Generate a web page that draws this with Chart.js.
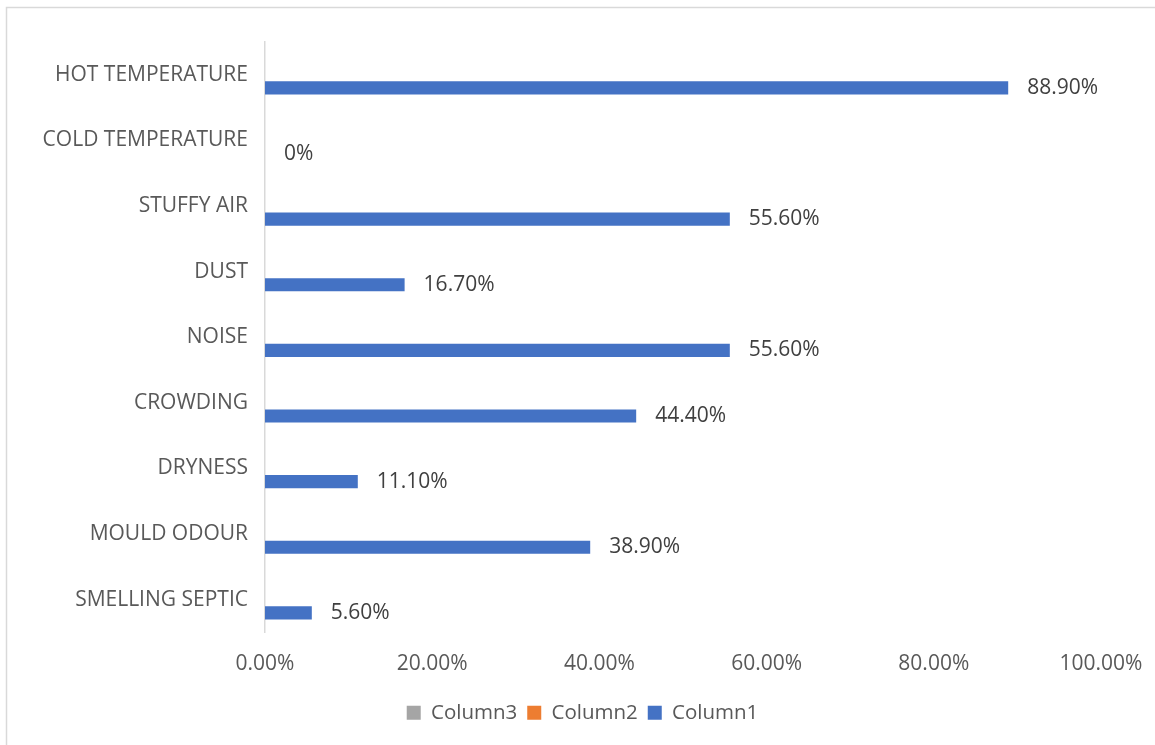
<!DOCTYPE html>
<html>
<head>
<meta charset="utf-8">
<title>Indoor environment complaints</title>
<script src="https://cdn.jsdelivr.net/npm/chart.js@4"></script>
<style>
  html, body { margin: 0; padding: 0; background: #fff; }
  #wrap { width: 1155px; height: 745px; position: relative; }
</style>
</head>
<body>
<div id="wrap"><canvas id="myChart"></canvas></div>
<script>
const categories = [
  "HOT TEMPERATURE", "COLD TEMPERATURE", "STUFFY AIR", "DUST", "NOISE",
  "CROWDING", "DRYNESS", "MOULD ODOUR", "SMELLING SEPTIC"
];
// percent of respondents
const column1 = [88.9, 0, 55.6, 16.7, 55.6, 44.4, 11.1, 38.9, 5.6];
const column2 = [];
const column3 = [];
const xTicks = [0, 20, 40, 60, 80, 100];

const FONT = "'Open Sans', sans-serif";
const axisGrey = "#595959";

// frame around the whole chart, like the spreadsheet chart box
const framePlugin = {
  id: "frame",
  afterLayout(chart) {
    // legend sits a bit right of the plot centre
    if (chart.legend) {
      chart.legend.left += 32;
      chart.legend.right += 32;
    }
  },
  beforeDraw(chart) {
    const ctx = chart.ctx;
    ctx.save();
    ctx.fillStyle = "#fff";
    ctx.fillRect(0, 0, chart.width, chart.height);
    ctx.strokeStyle = "#D9D9D9";
    ctx.lineWidth = 1.5;
    ctx.strokeRect(6.5, 7.5, chart.width + 20, chart.height + 20);
    ctx.restore();
  }
};

// value labels to the right of Column1 bars
const valueLabels = {
  id: "valueLabels",
  afterDatasetsDraw(chart) {
    const ctx = chart.ctx;
    const idx = chart.data.datasets.findIndex(d => d.label === "Column1");
    const meta = chart.getDatasetMeta(idx);
    ctx.save();
    ctx.font = "21px " + FONT;
    ctx.fillStyle = "#404040";
    ctx.textAlign = "left";
    ctx.textBaseline = "middle";
    meta.data.forEach((bar, i) => {
      const v = column1[i];
      const txt = v === 0 ? "0%" : v.toFixed(2) + "%";
      ctx.fillText(txt, bar.x + 19, bar.y);
    });
    ctx.restore();
  }
};

const data = {
  labels: categories,
  datasets: [
    { label: "Column3", data: column3, backgroundColor: "#A5A5A5" },
    { label: "Column2", data: column2, backgroundColor: "#ED7D31" },
    { label: "Column1", data: column1, backgroundColor: "#4472C4" }
  ]
};

const config = {
  type: "bar",
  data,
  options: {
    indexAxis: "y",
    responsive: true,
    maintainAspectRatio: false,
    animation: false,
    layout: { padding: { left: 0, right: 54, top: 42, bottom: 12 } },
    datasets: {
      bar: { categoryPercentage: 0.6, barPercentage: 1.0, borderWidth: 0 }
    },
    scales: {
      x: {
        min: 0,
        max: 100,
        afterBuildTicks(scale) {
          scale.ticks = xTicks.map(v => ({ value: v }));
        },
        afterFit(scale) {
          scale.height = 60;
          scale.paddingLeft = 0;
          scale.paddingRight = 0;
        },
        grid: { display: false, drawTicks: false },
        border: { display: false },
        ticks: {
          color: axisGrey,
          font: { family: FONT, size: 21 },
          padding: 19,
          maxRotation: 0,
          callback: v => Number(v).toFixed(2) + "%"
        }
      },
      y: {
        afterFit(scale) { scale.width = 265; },
        grid: { display: false, drawTicks: false },
        border: { display: true, color: "#D9D9D9", width: 1.5 },
        ticks: {
          color: axisGrey,
          font: { family: FONT, size: 21 },
          padding: 17
        }
      }
    },
    plugins: {
      legend: {
        position: "bottom",
        labels: {
          color: axisGrey,
          font: { family: FONT, size: 20.5 },
          boxWidth: 14,
          boxHeight: 14,
          padding: 10
        }
      },
      tooltip: { enabled: false }
    }
  },
  plugins: [framePlugin, valueLabels]
};

new Chart(document.getElementById("myChart"), config);
</script>
</body>
</html>
